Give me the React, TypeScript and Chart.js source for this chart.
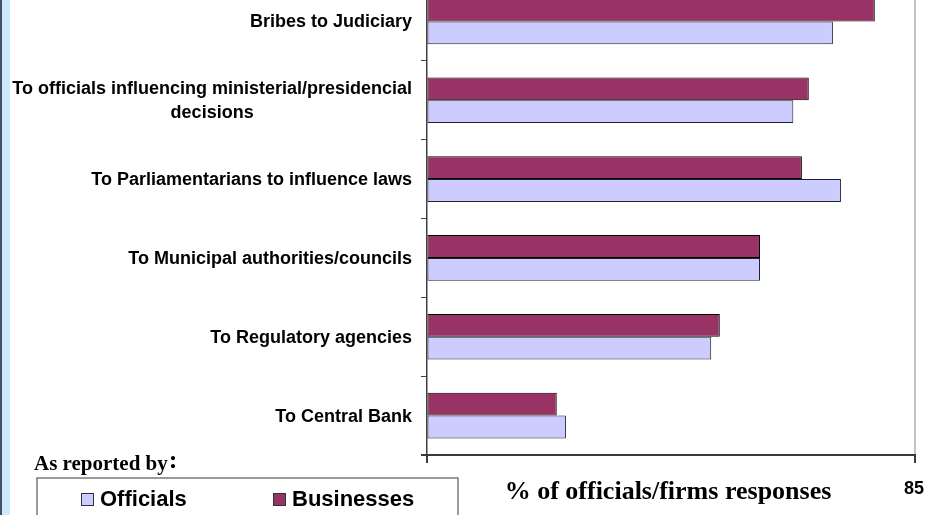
import React, { useEffect, useRef } from "react";
import { Chart, registerables } from "chart.js";

Chart.register(...registerables);

const CATEGORIES: string[][] = [
  ["Bribes to Judiciary"],
  ["To officials influencing ministerial/presidencial", "decisions"],
  ["To Parliamentarians to influence laws"],
  ["To Municipal authorities/councils"],
  ["To Regulatory agencies"],
  ["To Central Bank"],
];
const BUSINESSES: number[] = [78.0, 66.5, 65.3, 58.0, 51.0, 22.6];
const OFFICIALS: number[] = [70.7, 63.8, 72.1, 58.0, 49.5, 24.2];
const SERIES_NAMES = { officials: "Officials", businesses: "Businesses" };
const X_MIN = 0;
const X_MAX = 85;
const X_TICK_LABEL = "85";
const AXIS_TITLE = "% of officials/firms responses";
const LEGEND_HEADING = "As reported by";

const OFFICIALS_COLOR = "#ccccff";
const BUSINESSES_COLOR = "#993366";

const W = 930;
const H = 515;
const SHIFT = 18; // canvas extends above the visible page

export default function App() {
  const ref = useRef<HTMLCanvasElement | null>(null);

  useEffect(() => {
    const canvas = ref.current;
    if (!canvas) return;

    const background = {
      id: "bg",
      beforeDraw(chart: any) {
        const ctx = chart.ctx;
        ctx.save();
        ctx.fillStyle = "#ffffff";
        ctx.fillRect(0, 0, chart.width, chart.height);
        ctx.fillStyle = "#cfe9fc";
        ctx.fillRect(2, 0, 8, chart.height);
        ctx.fillStyle = "#45505c";
        ctx.fillRect(0, 0, 2, chart.height);
        ctx.restore();
      },
    };

    const decorations = {
      id: "decor",
      afterDraw(chart: any) {
        const ctx = chart.ctx;
        const area = chart.chartArea;
        const yScale = chart.scales.y;
        const xScale = chart.scales.x;
        ctx.save();
        // right plot border
        ctx.fillStyle = "#c4c4c4";
        ctx.fillRect(Math.round(area.right) - 1, 0, 2, Math.round(area.bottom));

        // bottom axis line
        const by = Math.round(area.bottom);
        ctx.fillStyle = "#3a3a3a";
        ctx.fillRect(421, by - 1, 495, 2);
        // axis end ticks
        ctx.fillRect(Math.round(area.left) - 1, by, 2, 8);
        ctx.fillRect(Math.round(area.right) - 1, by, 2, 8);

        // category labels
        ctx.fillStyle = "#000";
        ctx.font = 'bold 18px "Liberation Sans", Arial, sans-serif';
        ctx.textAlign = "center";
        ctx.textBaseline = "middle";
        const rightEdge = 412;
        const lh = 24;
        CATEGORIES.forEach((lines, i) => {
          const cy = yScale.getPixelForValue(i) + 1;
          const maxW = Math.max(...lines.map((l) => ctx.measureText(l).width));
          const cx = rightEdge - maxW / 2;
          lines.forEach((l, k) => {
            ctx.fillText(l, cx, cy + (k - (lines.length - 1) / 2) * lh);
          });
        });

        // x-axis end label
        ctx.textBaseline = "alphabetic";
        ctx.fillText(X_TICK_LABEL, xScale.getPixelForValue(X_MAX) - 1, 494 + SHIFT);

        // axis title
        ctx.font = 'bold 26px "Liberation Serif", "Times New Roman", serif';
        ctx.fillText(AXIS_TITLE, (area.left + area.right) / 2 - 3, 499 + SHIFT);

        // legend heading
        ctx.textAlign = "left";
        ctx.font = 'bold 21px "Liberation Serif", "Times New Roman", serif';
        ctx.fillText(LEGEND_HEADING, 34, 470 + SHIFT);
        const hw = ctx.measureText(LEGEND_HEADING).width;
        ctx.font = 'bold 26px "Liberation Serif", "Times New Roman", serif';
        ctx.fillText(":", 34 + hw + 1, 468 + SHIFT);

        // legend box
        ctx.strokeStyle = "#7a7a7a";
        ctx.lineWidth = 1.5;
        ctx.strokeRect(37, 478 + SHIFT, 421, 60);

        const items = [
          { name: SERIES_NAMES.officials, color: OFFICIALS_COLOR, x: 81 },
          { name: SERIES_NAMES.businesses, color: BUSINESSES_COLOR, x: 273 },
        ];
        ctx.font = 'bold 22px "Liberation Sans", Arial, sans-serif';
        items.forEach((it) => {
          ctx.fillStyle = it.color;
          ctx.fillRect(it.x, 493 + SHIFT, 13, 13);
          ctx.strokeStyle = "#333";
          ctx.lineWidth = 1;
          ctx.strokeRect(it.x + 0.5, 493.5 + SHIFT, 12, 12);
          ctx.fillStyle = "#000";
          ctx.fillText(it.name, it.x + 19, 506 + SHIFT);
        });
        ctx.restore();
      },
    };

    const chart = new Chart(canvas, {
      type: "bar",
      data: {
        labels: CATEGORIES.map((c) => c.join(" ")),
        datasets: [
          {
            label: SERIES_NAMES.businesses,
            data: BUSINESSES,
            backgroundColor: BUSINESSES_COLOR,
            borderColor: "#000",
            borderWidth: 1,
            borderSkipped: false,
            categoryPercentage: 0.58,
            barPercentage: 1,
          },
          {
            label: SERIES_NAMES.officials,
            data: OFFICIALS,
            backgroundColor: OFFICIALS_COLOR,
            borderColor: "#202030",
            borderWidth: 1,
            borderSkipped: false,
            categoryPercentage: 0.58,
            barPercentage: 1,
          },
        ],
      },
      options: {
        indexAxis: "y",
        responsive: false,
        animation: false,
        devicePixelRatio: 1,
        layout: { padding: { left: 0, right: 15, top: 0, bottom: 0 } },
        plugins: {
          legend: { display: false },
          tooltip: { enabled: false },
          title: { display: false },
        },
        scales: {
          y: {
            type: "category",
            ticks: { display: false },
            grid: {
              display: true,
              drawOnChartArea: false,
              drawTicks: true,
              tickLength: 6,
              color: "#404040",
              offset: true,
            },
            border: { display: true, color: "#404040", width: 1.5 },
            afterFit(scale: any) {
              scale.width = 427;
            },
          },
          x: {
            type: "linear",
            min: X_MIN,
            max: X_MAX,
            ticks: { display: false, stepSize: X_MAX - X_MIN },
            grid: {
              display: true,
              drawOnChartArea: false,
              drawTicks: true,
              tickLength: 8,
              color: "#404040",
            },
            border: { display: true, color: "#404040", width: 1 },
            afterFit(scale: any) {
              scale.height = H + SHIFT - (455 + SHIFT);
            },
          },
        },
      },
      plugins: [background, decorations],
    });

    return () => chart.destroy();
  }, []);

  return (
    <div
      style={{
        position: "absolute",
        left: 0,
        top: 0,
        width: W,
        height: H,
        overflow: "hidden",
        background: "#fff",
      }}
    >
      <canvas
        ref={ref}
        width={W}
        height={H + SHIFT}
        style={{ position: "absolute", left: 0, top: -SHIFT, width: W, height: H + SHIFT }}
      />
    </div>
  );
}
